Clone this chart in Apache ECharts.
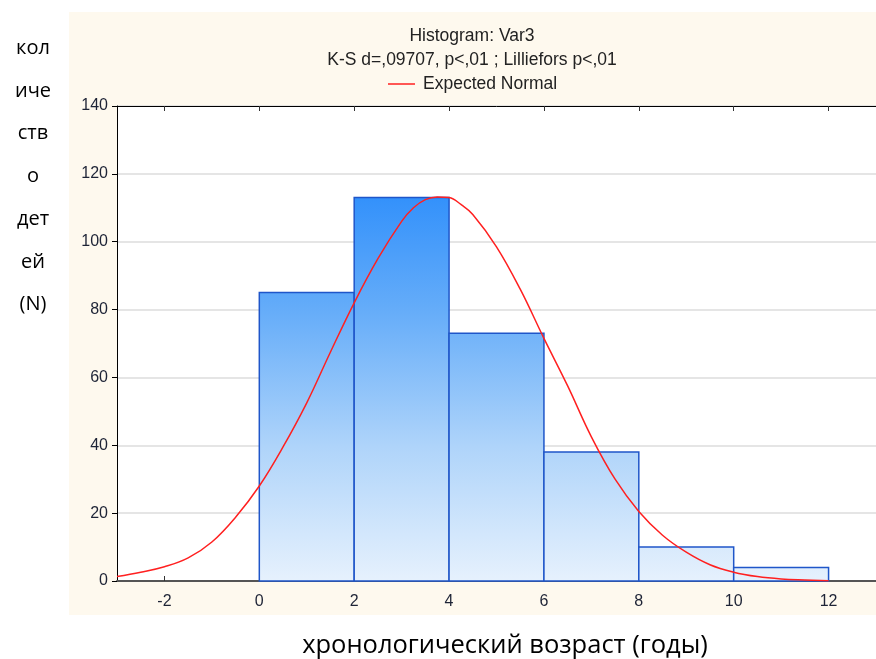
<!DOCTYPE html>
<html>
<head>
<meta charset="utf-8">
<script src="https://cdn.jsdelivr.net/npm/echarts@6/dist/echarts.min.js"></script>
<style>html,body{margin:0;padding:0;background:#fff;}#c{width:876px;height:659px;}</style>
</head>
<body>
<div id="c"></div>
<script>
// Histogram bins: [start, end, count]
const binStarts = [0, 2, 4, 6, 8, 10];
const binEnds   = [2, 4, 6, 8, 10, 12];
const binCounts = [85, 113, 73, 38, 10, 4];
// Expected normal curve
const curveX = [-3,-2.5,-2,-1.5,-1,-0.5,0,0.5,1,1.5,2,2.5,3,3.25,3.5,3.75,4,4.25,4.5,5,5.5,6,6.5,7,7.5,8,8.5,9,9.5,10,10.5,11,11.5,12];
const curveY = [1.3,2.6,4.2,6.8,11.5,18.8,28,39.5,52.5,67.5,82,95,106,110,112.4,113.2,113,111,108,98.5,86,71.5,57.5,42.5,30,20.5,13.5,8.5,4.8,2.6,1.3,0.6,0.3,0.1];
const xTicks = [-2,0,2,4,6,8,10,12];
const titleText = 'Histogram: Var3';
const subText = 'K-S d=,09707, p<,01 ; Lilliefors p<,01';
const legendName = 'Expected Normal';
const yTitleLines = ['кол','иче','ств','о','дет','ей','(N)'];
const xTitle = 'хронологический возраст (годы)';

const chart = echarts.init(document.getElementById('c'), null, {renderer:'canvas'});
const barData = binStarts.map((s,i)=>[s, binEnds[i], binCounts[i]]);
const curveData = curveX.map((x,i)=>[x, curveY[i]]);

const grad = new echarts.graphic.LinearGradient(0, 197, 0, 581, [
  {offset:0, color:'#3391fb'},
  {offset:0.3, color:'#66adf9'},
  {offset:0.65, color:'#afd4fa'},
  {offset:1, color:'#e6f1fd'}
], true);

const FF = 'Liberation Sans, Arial, sans-serif';
const labFont = {fontFamily:FF, fontSize:16, color:'#1e2436'};

chart.setOption({
  animation:false,
  backgroundColor:'#ffffff',
  graphic:[
    {type:'rect', z:-10, shape:{x:69,y:12,width:807,height:603}, style:{fill:'#fef9ee'}},
    {type:'text', x:33, y:27, style:{text:yTitleLines.join('\n'), font:'20px "Open Sans", sans-serif', fill:'#000', align:'center', lineHeight:42.7}},
    {type:'text', x:505, y:633, style:{text:xTitle, font:'25.5px "Open Sans", sans-serif', fill:'#000', align:'center'}}
  ],
  title:{
    text:titleText, subtext:subText, left:467, textAlign:'center', top:21, itemGap:4,
    textStyle:{fontFamily:FF, fontSize:17.5, fontWeight:'normal', color:'#222', lineHeight:20},
    subtextStyle:{fontFamily:FF, fontSize:17.5, color:'#222', lineHeight:20}
  },
  legend:{
    data:[legendName], top:70, left:383, icon:'rect', itemWidth:27, itemHeight:1.5, itemGap:5,
    textStyle:{fontFamily:FF, fontSize:17.5, color:'#222', padding:[0,0,0,3]}
  },
  grid:{left:117, top:106, width:761, height:475, containLabel:false, show:true, backgroundColor:'#ffffff', borderWidth:0},
  xAxis:[{
    type:'value', min:-3, max:13, position:'bottom',
    axisLine:{onZero:false, lineStyle:{color:'#555', width:2}},
    axisTick:{show:true, inside:true, length:5, customValues:xTicks, lineStyle:{color:'#333'}},
    axisLabel:{customValues:xTicks, margin:13, ...labFont},
    splitLine:{show:false}
  },{
    type:'value', min:-3, max:13, position:'top',
    axisLine:{onZero:false, lineStyle:{color:'#000', width:1}},
    axisTick:{show:true, inside:true, length:5, customValues:xTicks, lineStyle:{color:'#333'}},
    axisLabel:{show:false},
    splitLine:{show:false}
  }],
  yAxis:{
    type:'value', min:0, max:140, interval:20,
    axisLine:{show:true, onZero:false, lineStyle:{color:'#000', width:1}},
    axisTick:{show:true, length:5, lineStyle:{color:'#000'}},
    axisLabel:{margin:9, ...labFont},
    splitLine:{show:true, lineStyle:{color:'#dcdcdc', width:1.5}}
  },
  series:[{
    type:'custom', name:'hist', z:2,
    data:barData,
    renderItem:function(params, api){
      const p0 = api.coord([api.value(0), api.value(2)]);
      const p1 = api.coord([api.value(1), 0]);
      return {type:'rect', shape:{x:p0[0], y:p0[1], width:p1[0]-p0[0], height:p1[1]-p0[1]},
        style:{fill:grad, stroke:'#1f56c9', lineWidth:1.5}};
    },
    encode:{x:[0,1], y:2}
  },{
    type:'line', name:legendName, data:curveData, smooth:0.4, showSymbol:false, z:5,
    lineStyle:{color:'#ff2020', width:1.5}, itemStyle:{color:'#ff2020'}
  }]
});
</script>
</body>
</html>
